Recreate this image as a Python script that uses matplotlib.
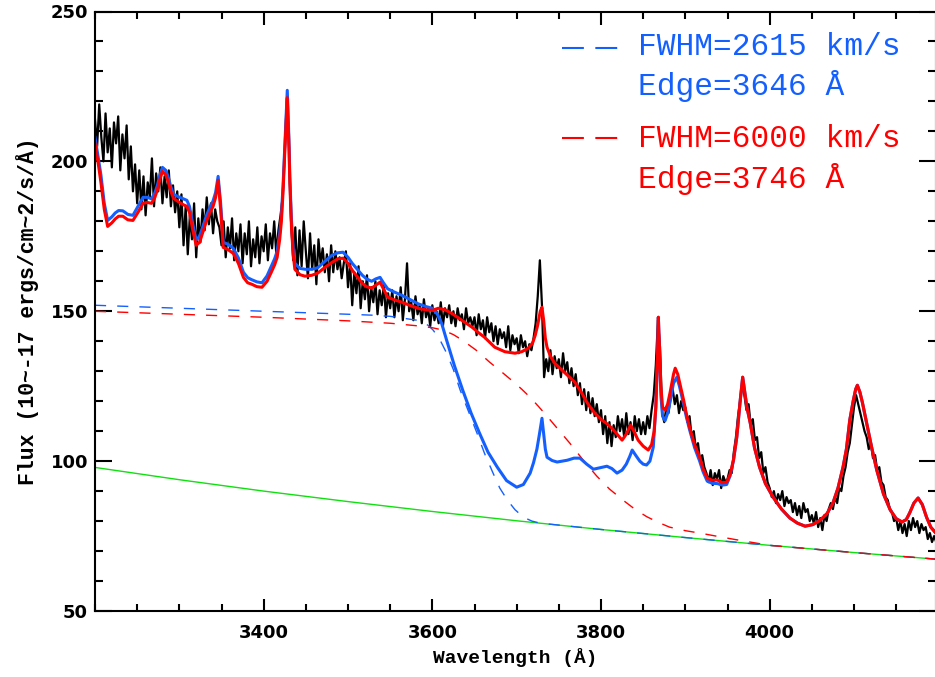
import numpy as np
import matplotlib
matplotlib.use("Agg")
import matplotlib.pyplot as plt
from matplotlib.ticker import MultipleLocator, FixedLocator

# observed spectrum, 2.5 A steps from 3200 (one row = 25 A)
obs_wave = np.arange(3200, 4200, 2.5)
obs_flux = [
    214, 205, 219, 208, 200, 216, 203, 211, 198, 213,
    206, 215, 197, 209, 201, 212, 194, 205, 190, 199,
    186, 197, 184, 195, 182, 193, 188, 201, 185, 196,
    190, 198, 186, 195, 188, 197, 185, 192, 183, 190,
    178, 189, 172, 185, 169, 182, 174, 186, 168, 181,
    173, 184, 177, 188, 179, 186, 176, 184, 180, 178,
    172, 180, 168, 178, 171, 181, 167, 176, 170, 179,
    166, 176, 169, 180, 165, 174, 168, 178, 166, 175,
    170, 179, 167, 176, 171, 180, 169, 177, 182, 188,
    203, 221, 205, 180, 167, 178, 162, 177, 165, 180,
    170, 161, 176, 164, 172, 159, 174, 166, 171, 163,
    169, 160, 172, 163, 170, 164, 168, 161, 166, 170,
    158, 166, 152, 163, 156, 165, 151, 160, 154, 162,
    150, 158, 153, 160, 149, 157, 152, 159, 148, 156,
    151, 157, 148, 155, 150, 158, 147, 154, 166, 150,
    153, 147, 155, 149, 152, 146, 154, 148, 151, 145,
    152, 147, 150, 146, 153, 145, 151, 148, 152, 146,
    150, 145, 151, 147, 149, 144, 151, 146, 148, 145,
    148, 142, 149, 144, 147, 141, 148, 143, 146, 140,
    145, 139, 144, 141, 143, 138, 145, 137, 142, 139,
    141, 136, 142, 138, 140, 135, 139, 137, 141, 146,
    155, 167, 152, 128, 134, 130, 137, 129, 135, 131,
    134, 128, 136, 130, 133, 126, 131, 125, 129, 122,
    126, 119, 124, 117, 123, 116, 121, 115, 119, 113,
    117, 109, 115, 106, 113, 105, 112, 108, 115, 110,
    114, 108, 116, 109, 113, 107, 115, 110, 114, 109,
    113, 109, 115, 111, 117, 122, 132, 147, 138, 116,
    113, 118, 116, 121, 124, 119, 122, 116, 120, 117,
    118, 113, 115, 108, 110, 104, 106, 100, 102, 98,
    96, 93, 97, 92, 96, 94, 97, 91, 95, 93,
    94, 97, 96, 103, 108, 115, 120, 126, 122, 117,
    119, 112, 114, 107, 108, 101, 103, 96, 98, 93,
    91, 88, 90, 86, 89, 87, 90, 85, 88, 86,
    87, 83, 86, 82, 85, 81, 86, 83, 84, 80,
    82, 79, 83, 78, 81, 77, 82, 80, 84, 86,
    84, 88, 86, 91, 90, 95, 98, 103, 106, 112,
    118, 122, 119, 116, 113, 110, 108, 104, 106, 101,
    102, 97, 98, 93, 92, 88, 87, 84, 83, 80,
    81, 77, 80, 76, 79, 75, 80, 77, 81, 78,
    80, 76, 79, 77, 78, 74, 76, 73, 75, 73,
]

# model with FWHM=6000 km/s, Edge=3746 (red)
red_wave = [3200, 3204, 3207, 3211, 3215, 3220, 3224, 3228, 3233, 3239,
            3245, 3251, 3257, 3262, 3267, 3271, 3274, 3277, 3280, 3284,
            3287, 3290, 3293, 3299, 3305, 3309, 3312, 3316, 3320, 3324,
            3328, 3332, 3336, 3340, 3343, 3346, 3349, 3352, 3358, 3364,
            3370, 3376, 3381, 3386, 3392, 3398, 3404, 3409, 3413, 3416,
            3419, 3421, 3423, 3425, 3428, 3430, 3431, 3433, 3435, 3437,
            3443, 3449, 3457, 3464, 3472, 3481, 3488, 3494, 3500, 3505,
            3511, 3517, 3522, 3528, 3533, 3538, 3542, 3547, 3555, 3564,
            3573, 3583, 3592, 3600, 3607, 3615, 3623, 3635, 3647, 3655,
            3662, 3674, 3686, 3698, 3706, 3714, 3719, 3722, 3725, 3728,
            3730, 3732, 3734, 3736, 3740, 3745, 3757, 3769, 3777, 3784,
            3792, 3801, 3807, 3813, 3819, 3825, 3830, 3835, 3839, 3844,
            3850, 3856, 3860, 3863, 3865, 3867, 3868, 3869, 3871, 3873,
            3876, 3879, 3882, 3886, 3888, 3891, 3895, 3898, 3901, 3905,
            3911, 3917, 3921, 3926, 3932, 3938, 3944, 3949, 3953, 3957,
            3961, 3965, 3968, 3970, 3973, 3977, 3982, 3988, 3995, 4004,
            4014, 4024, 4033, 4042, 4051, 4060, 4068, 4075, 4081, 4087,
            4091, 4095, 4099, 4102, 4104, 4107, 4110, 4115, 4121, 4127,
            4135, 4143, 4150, 4157, 4162, 4166, 4171, 4176, 4181, 4186,
            4191, 4197]
red_flux = [206, 199, 193, 184, 178.3, 179.5, 180.8, 181.7, 181.7, 180.5,
            180.3, 183, 186, 186.3, 186, 188, 190.5, 194, 196.7, 195.5,
            193, 190, 187.7, 186.5, 185.5, 185, 183, 177, 172, 173,
            176.5, 180, 182.7, 185, 188, 193.7, 184, 171.3, 170.5, 169.3,
            166, 161.3, 159.5, 159, 158.2, 158, 160, 163, 165.5, 168,
            174, 180, 190, 203, 221.3, 205, 193, 178, 169, 164,
            162.2, 161.7, 162, 162.7, 164.5, 166.3, 167.5, 167.7, 166, 163.7,
            161.5, 159.3, 158.2, 157.7, 158.7, 159.7, 157.5, 154.7, 153.8, 153,
            152, 151, 150.5, 150.3, 151, 150.5, 149.3, 147, 144.7, 142.8,
            141.3, 138, 136.5, 136, 136.5, 137.7, 139.5, 142, 145.5, 150,
            151.3, 147, 141, 138, 135, 132.7, 129.5, 126.3, 122.8, 119.3,
            116.2, 113.7, 112.5, 111, 109, 107, 109, 112, 110, 107,
            105, 103.7, 105.5, 110, 118, 135, 148, 140, 125, 118,
            117, 119, 123, 129, 131, 129, 124, 120.3, 116, 111.3,
            105.5, 101.3, 97.5, 94.3, 93.6, 93.7, 92.8, 93, 95.5, 100.3,
            108, 120, 128, 124, 118, 112.7, 104.5, 98, 92.5, 88,
            84, 81, 79.3, 78.3, 78.8, 80.3, 82.5, 86, 91, 98,
            104, 113.7, 120, 124, 125.3, 123, 119.5, 112.7, 104.5, 97,
            89, 83.7, 80.8, 79.7, 80.5, 82.7, 86, 87.7, 85.5, 81.3,
            78, 76]

# model with FWHM=2615 km/s, Edge=3646 (blue)
blue_wave = [3200, 3204, 3207, 3211, 3215, 3220, 3224, 3228, 3233, 3239,
             3245, 3251, 3257, 3262, 3267, 3271, 3274, 3277, 3280, 3284,
             3287, 3290, 3293, 3299, 3305, 3309, 3312, 3316, 3320, 3324,
             3328, 3332, 3336, 3340, 3343, 3346, 3349, 3352, 3358, 3364,
             3370, 3376, 3381, 3386, 3392, 3398, 3404, 3409, 3413, 3416,
             3419, 3421, 3423, 3425, 3428, 3430, 3431, 3433, 3435, 3437,
             3443, 3449, 3457, 3464, 3472, 3481, 3488, 3494, 3500, 3505,
             3511, 3517, 3522, 3528, 3533, 3538, 3542, 3547, 3555, 3564,
             3573, 3583, 3592, 3600, 3606, 3611, 3617, 3626, 3636, 3646,
             3656, 3666, 3677, 3688, 3700, 3708, 3716, 3720, 3724, 3727,
             3730, 3732, 3734, 3736, 3742, 3748, 3760, 3768, 3775, 3783,
             3791, 3799, 3807, 3813, 3819, 3825, 3830, 3834, 3837, 3841,
             3846, 3850, 3854, 3858, 3862, 3865, 3867, 3868, 3869, 3871,
             3873, 3876, 3879, 3882, 3886, 3890, 3893, 3898, 3901, 3905,
             3911, 3917, 3921, 3926, 3932, 3938, 3944, 3949, 3953, 3957,
             3961, 3965, 3968, 3970, 3973, 3977, 3982, 3988, 3995, 4004,
             4014, 4024, 4033, 4042, 4051, 4060, 4068, 4075, 4081, 4087,
             4091, 4095, 4099, 4102, 4104, 4107, 4110, 4115, 4121, 4127,
             4135, 4143, 4150, 4157, 4162, 4166, 4171, 4176, 4181, 4186,
             4191, 4197]
blue_flux = [208, 201, 195.5, 186, 180.3, 181.5, 182.8, 183.6, 183.5, 182.3,
             182, 185, 188, 188, 187.5, 189.5, 192, 195.5, 198, 197,
             194.5, 191.5, 189, 188.2, 187.5, 187, 185, 179, 173.7, 175,
             178.3, 181.8, 184.5, 186.8, 189.6, 195, 186, 173, 172.3, 171,
             167.8, 163, 161.2, 160.5, 159.8, 159.5, 161.8, 165, 167.5, 170,
             176, 182, 192, 205, 223.7, 207, 195, 180, 171, 166,
             164.3, 164, 164, 164.5, 166.5, 168.7, 169.5, 169.7, 168, 166,
             164, 162, 160.8, 160, 160.8, 161.3, 159.5, 157.5, 156.4, 155.3,
             154, 152.5, 151.6, 151, 149, 146, 140.3, 132, 123.7, 116,
             109.3, 103, 98, 93.5, 91.3, 92.2, 96, 99.5, 104, 109,
             114.3, 109, 104, 101.3, 100.2, 99.7, 100.3, 101, 101, 99,
             97.3, 97.8, 98.3, 97.5, 96, 97, 99, 101.5, 103.7, 102,
             100, 99, 98.7, 100, 104.7, 118, 135, 148, 139, 122,
             115, 113.5, 116, 120, 126, 128, 125, 119, 115, 110.5,
             104.5, 100, 96.5, 93.3, 92.6, 92.5, 92, 92.2, 95, 100,
             108, 120, 128, 124, 118, 112.7, 104.5, 98, 92.5, 88,
             84, 81, 79.3, 78.3, 78.8, 80.3, 82.5, 86, 91, 98,
             104, 113.7, 120, 124, 125.3, 123, 119.5, 112.7, 104.5, 97,
             89, 83.7, 80.8, 79.7, 80.5, 82.7, 86, 87.7, 85.5, 81.3,
             78, 76]

# Balmer continuum + power law (dashed)
bdash_wave = [3200, 3300, 3400, 3500, 3528, 3550, 3582, 3589, 3595, 3601,
              3609, 3617, 3625, 3633, 3643, 3653, 3662, 3672, 3680, 3689,
              3698, 3708, 3718, 3728, 3800, 3900, 4000, 4100, 4197]
bdash_flux = [152, 151, 150, 149, 148.7, 148.3, 147, 146.3, 145.3, 143.7,
              140.5, 136, 130.5, 123.7, 116.5, 109.3, 102.5, 96, 91, 87,
              83.8, 81.3, 80, 79.3, 77.2, 74.5, 71.9, 69.5, 67.3]
rdash_wave = [3200, 3300, 3400, 3500, 3550, 3580, 3600, 3613, 3625, 3636,
              3652, 3668, 3682, 3696, 3706, 3716, 3726, 3736, 3750, 3763,
              3779, 3795, 3810, 3826, 3840, 3854, 3867, 3881, 3900, 3921,
              3940, 3960, 4000, 4100, 4197]
rdash_flux = [150, 149, 148, 146.8, 146, 145.2, 144.5, 143.7, 142.2, 140.3,
              137, 133, 129.8, 126.5, 124, 121.3, 118.2, 115, 110.3, 106,
              100.3, 95, 90.7, 87, 84, 81.5, 79.7, 78, 76.8, 75.8,
              74.8, 73.8, 71.9, 69.5, 67.3]

# power-law continuum (green)
pl_wave = [3200, 3300, 3400, 3500, 3600, 3700, 3800, 3900, 4000, 4100, 4197]
pl_flux = [97.9, 93.8, 90.0, 86.5, 83.2, 80.1, 77.2, 74.5, 71.9, 69.5, 67.3]

BLUE = '#1460ff'
RED = '#ff0000'
GREEN = '#10e010'

W, H = 935, 677
fig = plt.figure(figsize=(W / 100, H / 100), dpi=100)
ax = fig.add_axes([95 / W, 66 / H, 841 / W, 599.5 / H])

ax.plot(obs_wave, obs_flux, color='black', lw=1.6)
ax.plot(pl_wave, pl_flux, color=GREEN, lw=1.0)
ax.plot(bdash_wave, bdash_flux, color=BLUE, lw=1.0, dashes=(8, 8))
ax.plot(rdash_wave, rdash_flux, color=RED, lw=1.0, dashes=(8, 8))
ax.plot(blue_wave, blue_flux, color=BLUE, lw=2.2)
ax.plot(red_wave, red_flux, color=RED, lw=2.2)

ax.set_xlim(3200, 3200 + 841 * 600 / 506)
ax.set_ylim(50, 250)
ax.xaxis.set_major_locator(FixedLocator([3400, 3600, 3800, 4000]))
ax.xaxis.set_minor_locator(MultipleLocator(50))
ax.yaxis.set_major_locator(MultipleLocator(50))
ax.yaxis.set_minor_locator(MultipleLocator(10))
for s in ax.spines.values():
    s.set_linewidth(1.5)
ax.tick_params(which='both', direction='in', top=True, right=True, width=1.5,
               labelsize=13)
ax.tick_params(axis='x', which='major', length=9, pad=9)
ax.tick_params(axis='x', which='minor', length=5)
ax.tick_params(axis='y', which='major', length=12, pad=5)
ax.tick_params(axis='y', which='minor', length=6)
for lab in ax.get_xticklabels() + ax.get_yticklabels():
    lab.set_fontweight('bold')

mono = 'Liberation Mono'
ax.set_xlabel('Wavelength (Å)', family=mono, fontweight='bold', fontsize=14,
              labelpad=5)
ax.set_ylabel('Flux (10~-17 ergs/cm~2/s/Å)', family=mono, fontweight='bold',
              fontsize=15.5, labelpad=8)

# legend drawn by hand, IDL style
def fx(x):
    return x / W

def fy(y):
    return 1 - y / H

for yy, col in [(48, BLUE), (138, RED)]:
    fig.add_artist(plt.Line2D([fx(562), fx(622)], [fy(yy), fy(yy)], color=col,
                              lw=1.5, dashes=(10.5, 5.5)))
labels = [('FWHM=2615 km/s', 55, BLUE), ('Edge=3646 Å', 95, BLUE),
          ('FWHM=6000 km/s', 147, RED), ('Edge=3746 Å', 188, RED)]
for txt, yy, col in labels:
    fig.text(fx(638), fy(yy), txt, color=col, family=mono, fontsize=22.5,
             va='baseline', ha='left')

fig.savefig('out.png', dpi=100)
